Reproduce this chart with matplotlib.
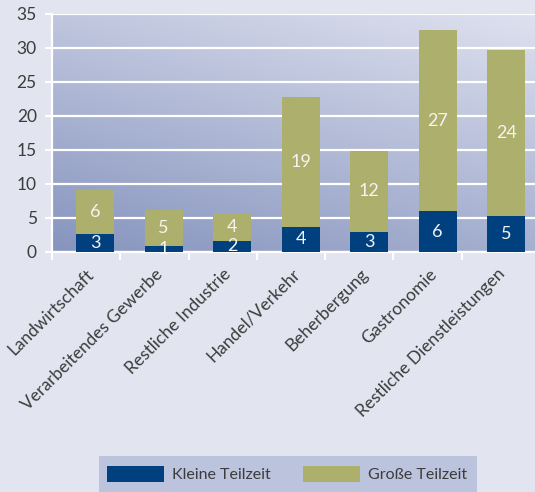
import numpy as np
import matplotlib
matplotlib.use("Agg")
import matplotlib.pyplot as plt
import matplotlib.transforms as mtransforms
from matplotlib.patches import Rectangle, Patch

plt.rcParams['font.family'] = ['Lato', 'DejaVu Sans']

categories = ["Landwirtschaft", "Verarbeitendes Gewerbe", "Restliche Industrie",
              "Handel/Verkehr", "Beherbergung", "Gastronomie",
              "Restliche Dienstleistungen"]
kleine = [2.65, 0.9, 1.65, 3.7, 2.95, 6.0, 5.3]
grosse = [6.45, 5.3, 4.1, 19.1, 11.9, 26.6, 24.4]
series_names = ["Kleine Teilzeit", "Große Teilzeit"]

navy = "#00407f"
olive = "#adb06c"
bg = "#e2e4f0"
txt = "#3c3c3c"

fig = plt.figure(figsize=(5.35, 4.92), dpi=100, facecolor=bg)
ax = fig.add_axes([52/535, 1-252/492, 483/535, 238/492])
ax.set_facecolor(bg)

# diagonal gradient in plot area
nx, ny = 200, 200
xx, yy = np.meshgrid(np.linspace(0, 1, nx), np.linspace(0, 1, ny))
t = 0.35*xx + 0.65*yy
c0 = np.array([0x86, 0x94, 0xbe]) / 255.
c1 = np.array([0xde, 0xe1, 0xef]) / 255.
img = c0[None, None, :] + (c1 - c0)[None, None, :] * t[:, :, None]
ax.imshow(img, extent=[0, 1, 0, 1], transform=ax.transAxes, origin='lower',
          aspect='auto', zorder=0, interpolation='bilinear')

x = np.arange(len(categories))
w = 0.555
ax.bar(x, kleine, w, color=navy, zorder=3, label=series_names[0])
ax.bar(x, grosse, w, bottom=kleine, color=olive, zorder=3, label=series_names[1])

for i in range(len(x)):
    ax.text(x[i], kleine[i]/2, f"{kleine[i]:.0f}", ha='center', va='center',
            color='#f4f4f4', fontsize=13, zorder=4)
    ax.text(x[i], kleine[i] + grosse[i]/2, f"{grosse[i]:.0f}", ha='center', va='center',
            color='#f4f4f4', fontsize=13, zorder=4)

x0 = -0.63
ax.set_xlim(x0, x0 + 483/68.5)
ax.set_ylim(0, 35)
ax.set_yticks(np.arange(0, 36, 5))
ax.yaxis.grid(True, color='white', lw=1.6, zorder=1)
ax.set_axisbelow(True)

for s in ['top', 'right']:
    ax.spines[s].set_visible(False)
for s in ['left', 'bottom']:
    ax.spines[s].set_color('white')
    ax.spines[s].set_linewidth(1.6)
    ax.spines[s].set_zorder(2)

ax.tick_params(axis='y', colors='white', length=5, width=1.5, pad=6,
               labelcolor=txt, labelsize=12.5)
ax.set_xticks(x)
ax.set_xticks(x0 + np.arange(0, 7) * 0.997, minor=True)
ax.tick_params(axis='x', which='major', length=0, pad=10, labelcolor=txt, labelsize=12.5)
ax.tick_params(axis='x', which='minor', length=6, width=1.5, colors='white')
ax.set_xticklabels(categories, rotation=45, ha='right', va='top')
offset = mtransforms.ScaledTranslation(2/100, 0, fig.dpi_scale_trans)
for lab in ax.get_xticklabels():
    lab.set_transform(lab.get_transform() + offset)

# legend box
fig.patches.append(Rectangle((99/535, 0), 378/535, 36/492, transform=fig.transFigure,
                             facecolor="#bcc3dd", edgecolor='none', zorder=0))
handles = [Patch(facecolor=navy), Patch(facecolor=olive)]
fig.legend(handles, series_names, loc='center', bbox_to_anchor=(287/535, 18/492),
           ncol=2, frameon=False, fontsize=11.5, handlelength=3.6, handleheight=1.25,
           handletextpad=0.5, columnspacing=2.0, labelcolor=txt)

fig.savefig("out.png", dpi=100, facecolor=bg)
